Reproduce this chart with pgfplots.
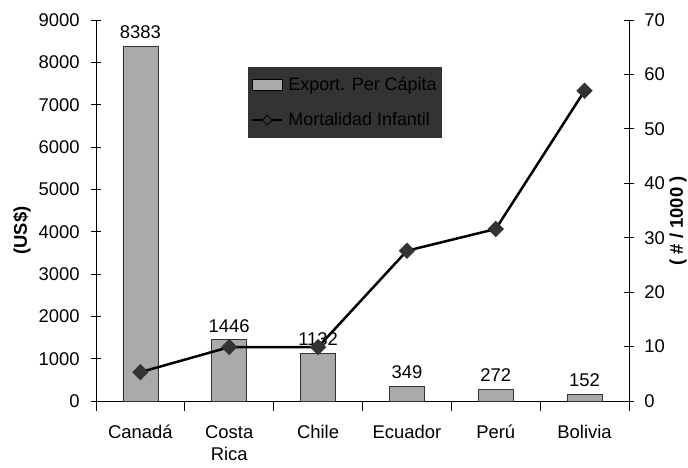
\documentclass[border=0pt]{standalone}
\usepackage{fontspec}
\setmainfont{Liberation Sans}
\usepackage{pgfplots}
\pgfplotsset{compat=1.18}
\definecolor{barfill}{RGB}{170,170,170}
\definecolor{legbg}{RGB}{51,51,51}
\definecolor{mk}{RGB}{51,51,51}
\begin{document}
\fontsize{18.5}{22}\selectfont
\begin{tikzpicture}
\path[use as bounding box] (-96bp,-67bp) rectangle (592bp,401bp);
\begin{axis}[
  at={(0,0)}, anchor=south west,
  scale only axis, width=533bp, height=381bp,
  xmin=-0.5, xmax=5.5, ymin=0, ymax=9000,
  axis x line*=bottom, axis y line*=left,
  axis line style={black, line width=0.8bp, -},
  xtick={0,1,2,3,4,5},
  xticklabels={Canadá,Costa\\Rica,Chile,Ecuador,Perú,Bolivia},
  xticklabel style={align=center, yshift=-8bp, font=\fontsize{18.5}{22}\selectfont},
  major x tick style={draw=none},
  minor xtick={-0.5,0.5,1.5,2.5,3.5,4.5,5.5},
  minor x tick style={black, line width=0.8bp},
  ytick={0,1000,...,9000},
  y tick style={black, line width=0.8bp},
  tick align=center, major tick length=10bp, minor tick length=10bp,
  yticklabel style={font=\fontsize{18.5}{22}\selectfont, xshift=-5bp},
  /pgf/number format/assume math mode=true,
  /pgf/number format/set thousands separator={},
  ylabel={\bfseries (US\$)},
  ylabel style={font=\fontsize{13}{15}\selectfont},
  every axis y label/.style={at={(-74bp,0.5*381bp-20bp)}, rotate=90, anchor=center},
  ybar, bar width=35bp,
  nodes near coords,
  every node near coord/.append style={font=\fontsize{18.5}{22}\selectfont, yshift=1bp},
  clip=false,
]
\addplot[fill=barfill, draw=black!80, line width=0.8bp] coordinates {
(0,8383) (1,1446) (2,1132) (3,349) (4,272) (5,152)};
\end{axis}
\begin{axis}[
  at={(0,0)}, anchor=south west,
  scale only axis, width=533bp, height=381bp,
  xmin=-0.5, xmax=5.5, ymin=0, ymax=70,
  hide x axis,
  axis y line*=right,
  axis line style={black, line width=0.8bp, -},
  ytick={0,10,...,70},
  y tick style={black, line width=0.8bp},
  tick align=center, major tick length=10bp,
  yticklabel style={font=\fontsize{18.5}{22}\selectfont, xshift=4bp},
  /pgf/number format/assume math mode=true,
  ylabel={\bfseries ( \# / 1000 )},
  ylabel style={font=\fontsize{12.5}{15}\selectfont},
  every axis y label/.style={at={(533bp+49bp,401bp-221bp)}, rotate=90, anchor=center},
  legend style={at={(152bp,334bp)}, anchor=north west, fill=legbg, draw=none,
    font=\fontsize{18}{20}\selectfont, text=black, inner xsep=3bp, inner ysep=8bp,
    row sep=15bp, cells={anchor=west}},
  clip=false,
]
\addlegendimage{legend image code/.code={\draw[fill=barfill, draw=black, line width=0.8bp] (0bp,-5bp) rectangle (30bp,6bp); \path (34bp,0bp);}}
\addlegendentry{Export. Per Cápita}
\addlegendimage{legend image code/.code={
  \draw[black, line width=2bp] (0bp,0bp) -- (30bp,0bp);
  \draw[black, fill=legbg, line width=0.8bp] (15bp,-5bp) -- (20bp,0bp) -- (15bp,5bp) -- (10bp,0bp) -- cycle; \path (34bp,0bp);}}
\addlegendentry{Mortalidad Infantil}
\addplot[black, line width=2.5bp, mark=square*, mark size=5.5bp,
  mark options={rotate=45, fill=mk, draw=mk, line width=0.5bp}, forget plot] coordinates {
(0,5.3) (1,9.9) (2,9.9) (3,27.6) (4,31.6) (5,57.0)};
\end{axis}
\end{tikzpicture}
\end{document}
